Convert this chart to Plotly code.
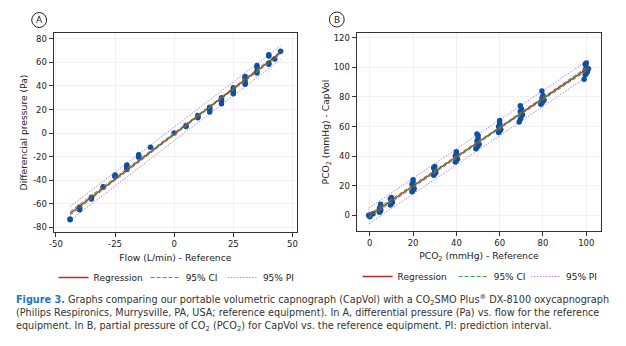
import numpy as np
import plotly.graph_objects as go

# ---------------- Data: Panel A ----------------
flow_ref = [-44, -44, -40, -40, -40, -35, -35, -35, -30, -30, -25, -25, -25,
            -20, -20, -20, -20, -15, -15, -15, -10, 0, 5, 5, 10, 10, 10,
            15, 15, 15, 15, 20, 20, 20, 20, 25, 25, 25, 25,
            30, 30, 30, 30, 30, 35, 35, 35, 35, 40, 40, 40, 40, 42.5, 45]
diff_pressure = [-73.5, -73, -63, -64, -65, -54.5, -55.5, -56, -46, -45.5, -35.5, -36.5, -37,
                 -27, -28.5, -30, -31, -18.5, -19.5, -20.5, -12, 0, 5.5, 6.5, 13, 14, 15,
                 18, 19.5, 21, 22, 25, 27, 28.5, 30, 33.5, 35, 36.5, 38.5,
                 41.5, 43, 45.5, 47.5, 48, 51, 52.5, 56, 57.5, 58.5, 59.5, 65.5, 66.5, 63, 69.5]

# ---------------- Data: Panel B ----------------
pco2_ref = [-0.5, 0, 0.5, 0, 1.5,
            4.5, 5, 5, 4.5, 5,
            9.5, 10, 10.5, 10, 9.5, 10,
            19.5, 20, 20.5, 20, 19.5, 20, 20,
            29.5, 30, 30.5, 30, 30, 29.5, 30,
            39.5, 40, 40.5, 40, 39.5, 40, 40,
            49, 49.5, 50, 50.5, 50, 49.5, 50, 50, 49.5,
            59.5, 60, 60.5, 60, 59.5, 60, 60, 60,
            69, 69.5, 70, 70.5, 69.5, 70, 70, 69.5,
            79, 79.5, 80, 80.5, 79.5, 80, 80, 79.5,
            99, 99.5, 100, 100.5, 99.5, 100, 100, 101, 99.5, 100]
pco2_capvol = [0, -0.5, 0.5, -1, 1,
               2, 3, 4, 5, 7.5,
               7, 8, 9, 10, 11, 12,
               16, 17, 18, 20, 21, 22, 24,
               27, 28, 29, 30, 31, 32, 33,
               36, 37, 38, 39, 40, 42, 43,
               45, 46, 47, 48, 49, 50, 52, 54, 55,
               56, 57, 58, 59, 60, 61, 62, 64,
               63, 65, 67, 68, 70, 71, 72, 74,
               75, 76, 77, 78, 79, 80, 81, 84,
               92, 95, 96, 97, 98, 99, 100, 99, 102, 103]

# tick labels
a_xticks = [-50, -25, 0, 25, 50]
a_yticks = [-80, -60, -40, -20, 0, 20, 40, 60, 80]
b_xticks = [0, 20, 40, 60, 80, 100]
b_yticks = [0, 20, 40, 60, 80, 100, 120]

T_CRIT = 1.98


def fit_bands(x, y):
    x = np.asarray(x, float)
    y = np.asarray(y, float)
    n = len(x)
    b1, b0 = np.polyfit(x, y, 1)
    resid = y - (b0 + b1 * x)
    s = np.sqrt(np.sum(resid ** 2) / (n - 2))
    xm = x.mean()
    sxx = np.sum((x - xm) ** 2)
    xs = np.linspace(x.min(), x.max(), 60)
    yh = b0 + b1 * xs
    se_ci = s * np.sqrt(1 / n + (xs - xm) ** 2 / sxx)
    se_pi = s * np.sqrt(1 + 1 / n + (xs - xm) ** 2 / sxx)
    return xs, yh, yh - T_CRIT * se_ci, yh + T_CRIT * se_ci, yh - T_CRIT * se_pi, yh + T_CRIT * se_pi


RED = "#b22c2c"
GREEN = "#3aa655"
VIOLET = "#c77ddb"
BLUE = "#0f4fa3"
FONT = "DejaVu Sans"
CI_DASH = "4px,2px"
PI_DASH = "1.5px,1.5px"

fig = go.Figure()


def add_panel(x, y, xa, ya, legs):
    xs, yh, cl, cu, pl, pu = fit_bands(x, y)
    fig.add_trace(go.Scatter(x=xs, y=pl, mode="lines", line=dict(color=VIOLET, width=1, dash=PI_DASH),
                             xaxis=xa, yaxis=ya, showlegend=False, hoverinfo="skip"))
    fig.add_trace(go.Scatter(x=xs, y=pu, mode="lines", line=dict(color=VIOLET, width=1, dash=PI_DASH),
                             xaxis=xa, yaxis=ya, showlegend=False, hoverinfo="skip"))
    fig.add_trace(go.Scatter(x=x, y=y, mode="markers", marker=dict(color=BLUE, size=5.5),
                             xaxis=xa, yaxis=ya, showlegend=False))
    fig.add_trace(go.Scatter(x=xs, y=yh, mode="lines", line=dict(color=RED, width=1.3),
                             xaxis=xa, yaxis=ya, name="Regression", legend=legs[0]))
    fig.add_trace(go.Scatter(x=xs, y=cl, mode="lines", line=dict(color=GREEN, width=1, dash=CI_DASH),
                             xaxis=xa, yaxis=ya, name="95% CI", legend=legs[1]))
    fig.add_trace(go.Scatter(x=xs, y=cu, mode="lines", line=dict(color=GREEN, width=1, dash=CI_DASH),
                             xaxis=xa, yaxis=ya, showlegend=False, hoverinfo="skip"))
    fig.add_trace(go.Scatter(x=[None], y=[None], mode="lines", line=dict(color=VIOLET, width=1, dash=PI_DASH),
                             xaxis=xa, yaxis=ya, name="95% PI", legend=legs[2]))


add_panel(flow_ref, diff_pressure, "x", "y", ["legend", "legend2", "legend3"])
add_panel(pco2_ref, pco2_capvol, "x2", "y2", ["legend4", "legend5", "legend6"])

W, H = 626, 346
def px(v):
    return v / W
def py(v):
    return 1 - v / H

axis_common = dict(showline=True, mirror=True, linecolor="#333", linewidth=1,
                   ticks="outside", ticklen=4, tickcolor="#333",
                   showgrid=True, gridcolor="#f0f0f0", zeroline=False,
                   tickfont=dict(family=FONT, size=8.5, color="#222"))
TITLE_FONT = dict(family=FONT, size=9.2, color="#222")

def legend_at(xpix, ypix):
    return dict(orientation="h", x=px(xpix), y=py(ypix), xanchor="left", yanchor="middle",
                font=dict(family=FONT, size=9, color="#222"), itemwidth=30,
                bgcolor="rgba(0,0,0,0)", borderwidth=0)

fig.update_layout(
    width=W, height=H,
    margin=dict(l=0, r=0, t=0, b=0),
    paper_bgcolor="white", plot_bgcolor="white",
    font=dict(family=FONT, size=9, color="#222"),
    xaxis=dict(domain=[px(49), px(295)], range=[-51, 52], tickvals=a_xticks,
               ticktext=[str(v) for v in a_xticks],
               title=dict(text="Flow (L/min) - Reference", font=TITLE_FONT, standoff=6),
               anchor="y", **axis_common),
    yaxis=dict(domain=[py(232), py(33)], range=[-84, 85], tickvals=a_yticks,
               ticktext=[str(v) for v in a_yticks],
               title=dict(text="Differencial pressure (Pa)", font=TITLE_FONT, standoff=3),
               anchor="x", **axis_common),
    xaxis2=dict(domain=[px(355), px(602)], range=[-6.1, 106.9], tickvals=b_xticks,
                ticktext=[str(v) for v in b_xticks],
                title=dict(text="PCO<sub>2</sub> (mmHg) - Reference", font=TITLE_FONT, standoff=5),
                anchor="y2", **axis_common),
    yaxis2=dict(domain=[py(231), py(33)], range=[-10.6, 123.2], tickvals=b_yticks,
                ticktext=[str(v) for v in b_yticks],
                title=dict(text="PCO<sub>2</sub> (mmHg) - CapVol", font=TITLE_FONT, standoff=2),
                anchor="x2", **axis_common),
    legend=legend_at(49, 277.5),
    legend2=legend_at(142, 277.5),
    legend3=legend_at(220, 277.5),
    legend4=legend_at(356, 276.5),
    legend5=legend_at(453, 276.5),
    legend6=legend_at(526, 276.5),
)

# circled panel letters
for cx, cy, letter in [(34.5, 20, "A"), (335, 19.5, "B")]:
    fig.add_shape(type="circle", xref="paper", yref="paper",
                  x0=px(cx - 7.5), x1=px(cx + 7.5), y0=py(cy + 7.5), y1=py(cy - 7.5),
                  line=dict(color="#222", width=1))
    fig.add_annotation(x=px(cx), y=py(cy), xref="paper", yref="paper", text=letter,
                       xanchor="center", yanchor="middle", showarrow=False,
                       font=dict(family=FONT, size=9, color="#222"))

caption_lines = [
    ("<b><span style='color:#2676bd'>Figure 3.</span></b> Graphs comparing our portable volumetric "
     "capnograph (CapVol) with a CO<sub>2</sub>SMO Plus<sup>®</sup> DX-8100 oxycapnograph", 299.5),
    ("(Philips Respironics, Murrysville, PA, USA; reference equipment). In A, differential pressure "
     "(Pa) vs. flow for the reference", 312.5),
    ("equipment. In B, partial pressure of CO<sub>2</sub> (PCO<sub>2</sub>) for CapVol vs. the "
     "reference equipment. PI: prediction interval.", 326.5),
]
for text, ycen in caption_lines:
    fig.add_annotation(x=px(9), y=py(ycen), xref="paper", yref="paper", xanchor="left",
                       yanchor="middle", align="left", showarrow=False, text=text,
                       font=dict(family=FONT, size=9.7, color="#333"))

fig.write_html("out.html")
